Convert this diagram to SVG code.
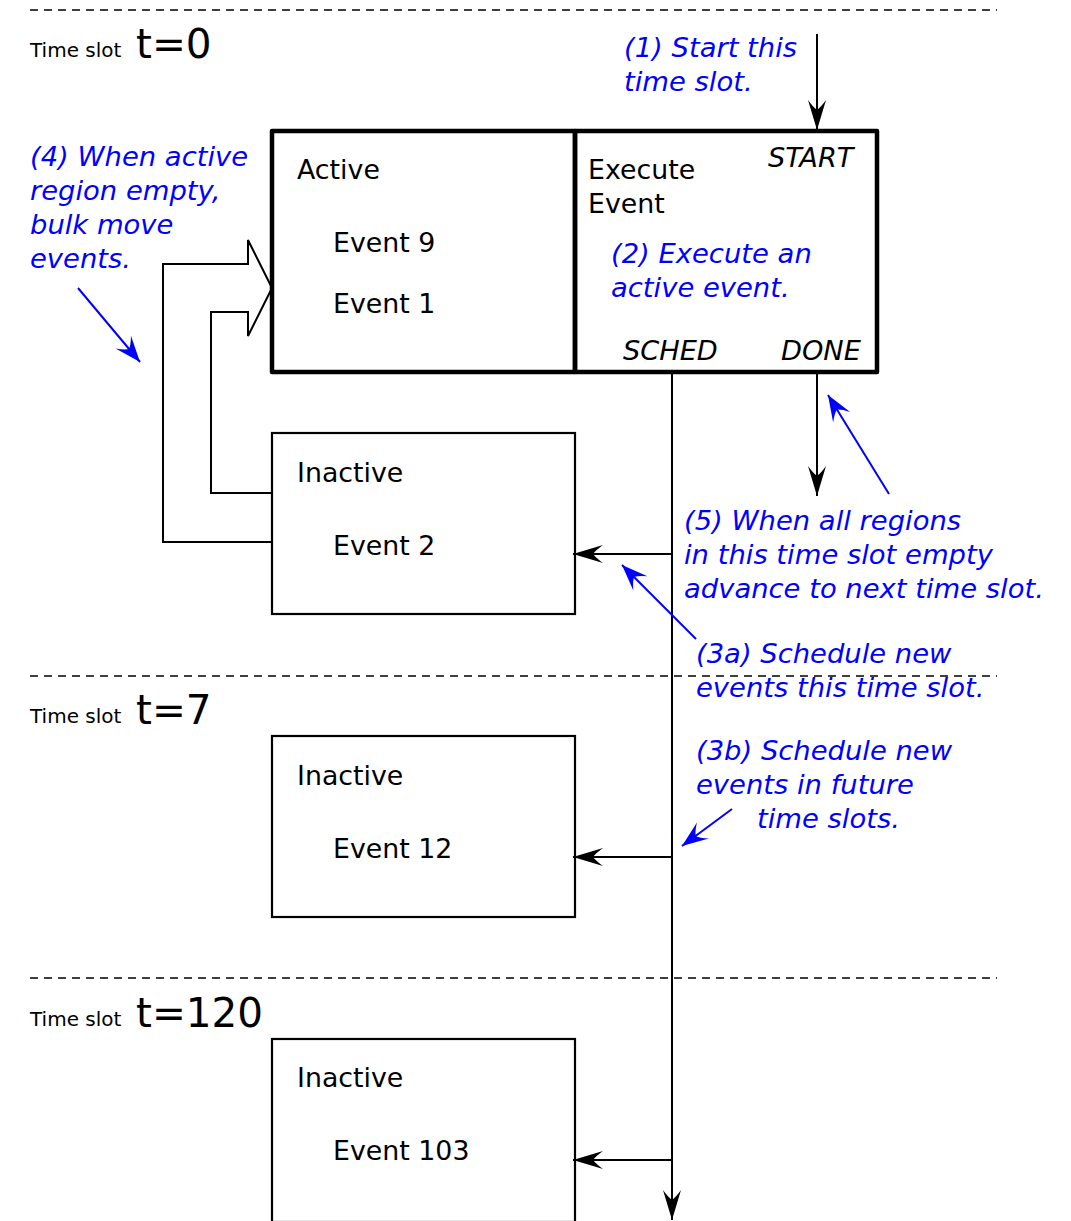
<svg xmlns="http://www.w3.org/2000/svg" width="1071" height="1221" viewBox="0 0 1071 1221">
  <style>
    text { font-family: "DejaVu Sans", "Liberation Sans", sans-serif; }
    .lbl { font-size: 26.8px; fill: #000; }
    .tag { font-size: 27.2px; font-style: italic; fill: #000; }
    .note { font-size: 27.4px; font-style: italic; fill: #0000ff; }
    .slot { font-size: 20px; fill: #000; }
    .tval { font-size: 40.5px; fill: #000; }
    .divider { stroke: #000; stroke-width: 1.5; stroke-dasharray: 8 6; fill: none; }
    .region { fill: #fff; stroke: #000; stroke-width: 2.2; }
    .thick { fill: none; stroke: #000; stroke-width: 4.5; stroke-linejoin: round; }
    .flow { fill: none; stroke: #000; stroke-width: 2; }
    .hint { fill: none; stroke: #0000ff; stroke-width: 2; }
  </style>
  <defs>
    <marker id="blackHead" markerUnits="userSpaceOnUse" viewBox="-32 -11 34 22" refX="0" refY="0" markerWidth="34" markerHeight="22" orient="auto" overflow="visible">
      <path d="M0,0 L-30,-9 Q-23,-4 -20,0 Q-23,4 -30,9 Z" fill="#000"/>
    </marker>
    <marker id="blueHead" markerUnits="userSpaceOnUse" viewBox="-28 -12 30 24" refX="0" refY="0" markerWidth="30" markerHeight="24" orient="auto" overflow="visible">
      <path d="M0,0 L-26,-10 Q-19,-4 -17,0 Q-19,4 -26,10 Z" fill="#0000ff"/>
    </marker>
  </defs>

  <!-- time slot separators -->
  <g id="slots">
    <line class="divider" x1="30" y1="10" x2="997" y2="10"/>
    <line class="divider" x1="30" y1="676" x2="997" y2="676"/>
    <line class="divider" x1="30" y1="978" x2="997" y2="978"/>
    <text class="slot" x="30" y="57">Time slot</text>
    <text class="tval" x="136" y="58">t=0</text>
    <text class="slot" x="30" y="723">Time slot</text>
    <text class="tval" x="136" y="724">t=7</text>
    <text class="slot" x="30" y="1026">Time slot</text>
    <text class="tval" x="136" y="1027">t=120</text>
  </g>

  <!-- current slot: active region and executor -->
  <g id="active-region">
    <rect class="thick" x="272" y="131" width="303" height="241"/>
    <text class="lbl" x="297" y="179">Active</text>
    <text class="lbl" x="333" y="252">Event 9</text>
    <text class="lbl" x="333" y="313">Event 1</text>
  </g>
  <g id="execute-event">
    <rect class="thick" x="575" y="131" width="302" height="241"/>
    <text class="lbl" x="588" y="179">Execute</text>
    <text class="lbl" x="588" y="213">Event</text>
    <text class="tag" x="768" y="167">START</text>
    <text class="tag" x="623" y="360">SCHED</text>
    <text class="tag" x="781" y="360">DONE</text>
  </g>

  <g id="inactive-t0">
    <rect class="region" x="272" y="433" width="303" height="181"/>
    <text class="lbl" x="297" y="482">Inactive</text>
    <text class="lbl" x="333" y="555">Event 2</text>
  </g>
  <g id="inactive-t7">
    <rect class="region" x="272" y="736" width="303" height="181"/>
    <text class="lbl" x="297" y="785">Inactive</text>
    <text class="lbl" x="333" y="858">Event 12</text>
  </g>
  <g id="inactive-t120">
    <rect class="region" x="272" y="1039" width="303" height="183"/>
    <text class="lbl" x="297" y="1087">Inactive</text>
    <text class="lbl" x="333" y="1160">Event 103</text>
  </g>

  <!-- annotations -->
  <g id="note-start">
    <text class="note" x="624" y="57">(1) Start this</text>
    <text class="note" x="624" y="91">time slot.</text>
  </g>
  <g id="note-execute">
    <text class="note" x="611" y="263">(2) Execute an</text>
    <text class="note" x="611" y="297">active event.</text>
  </g>
  <g id="note-move">
    <text class="note" x="30" y="166">(4) When active</text>
    <text class="note" x="30" y="200">region empty,</text>
    <text class="note" x="30" y="234">bulk move</text>
    <text class="note" x="30" y="268">events.</text>
  </g>
  <g id="note-advance">
    <text class="note" x="684" y="530">(5) When all regions</text>
    <text class="note" x="684" y="564">in this time slot empty</text>
    <text class="note" x="684" y="598">advance to next time slot.</text>
  </g>
  <g id="note-sched-now">
    <text class="note" x="696" y="663">(3a) Schedule new</text>
    <text class="note" x="696" y="697">events this time slot.</text>
  </g>
  <g id="note-sched-future">
    <text class="note" x="696" y="760">(3b) Schedule new</text>
    <text class="note" x="696" y="794">events in future</text>
    <text class="note" x="757" y="828">time slots.</text>
  </g>

  <!-- connectors -->
  <g id="connectors">
    <!-- bulk move from inactive back into active -->
    <path d="M272,542 H163 V264 H248 V240 L272,288 L248,336 V312 H211 V493 H272" fill="none" stroke="#000" stroke-width="2" stroke-linejoin="miter"/>
    <line class="flow" x1="817" y1="34" x2="817" y2="130" marker-end="url(#blackHead)"/>
    <line class="flow" x1="817" y1="373" x2="817" y2="496" marker-end="url(#blackHead)"/>
    <line class="flow" x1="672" y1="373" x2="672" y2="1220" marker-end="url(#blackHead)"/>
    <line class="flow" x1="672" y1="554" x2="573" y2="554" marker-end="url(#blackHead)"/>
    <line class="flow" x1="672" y1="857" x2="573" y2="857" marker-end="url(#blackHead)"/>
    <line class="flow" x1="672" y1="1160" x2="573" y2="1160" marker-end="url(#blackHead)"/>
    <!-- annotation pointers -->
    <line class="hint" x1="78" y1="288" x2="140" y2="362" marker-end="url(#blueHead)"/>
    <line class="hint" x1="889" y1="494" x2="828" y2="395" marker-end="url(#blueHead)"/>
    <line class="hint" x1="696" y1="639" x2="622" y2="565" marker-end="url(#blueHead)"/>
    <line class="hint" x1="732" y1="809" x2="682" y2="846" marker-end="url(#blueHead)"/>
  </g>
</svg>
